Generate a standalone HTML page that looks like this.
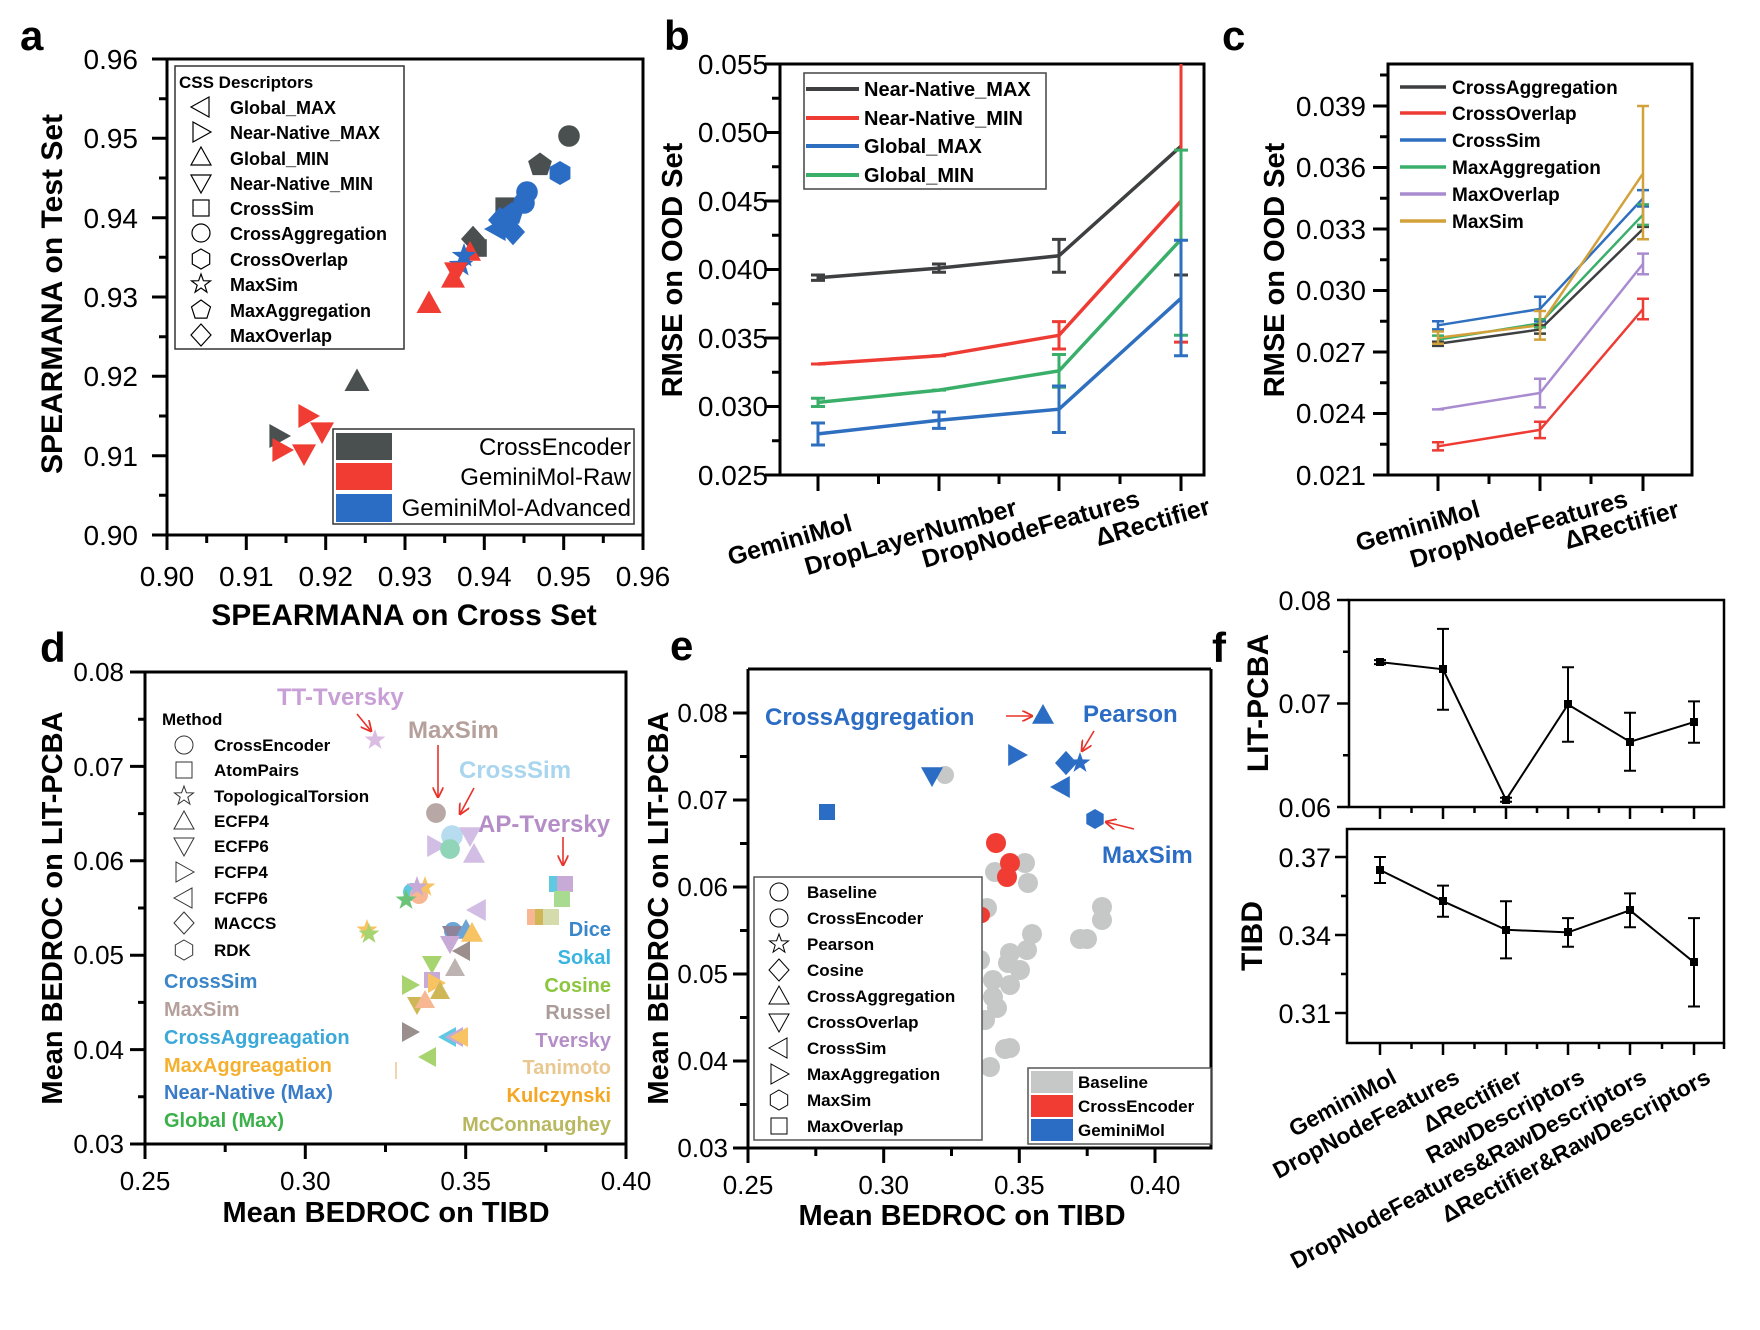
<!DOCTYPE html>
<html><head><meta charset="utf-8"><style>
html,body{margin:0;padding:0;background:#fff}
svg{display:block;font-family:"Liberation Sans",Arial,sans-serif}
.b{font-weight:bold}
</style></head><body>
<svg width="1760" height="1330" viewBox="0 0 1760 1330" xmlns="http://www.w3.org/2000/svg">
<defs>
<polygon id="tu" points="0,-10 10,8 -10,8"/>
<polygon id="td" points="0,10 10,-8 -10,-8"/>
<polygon id="tl" points="-10,0 8,-10 8,10"/>
<polygon id="tr" points="10,0 -8,-10 -8,10"/>
<rect id="sq" x="-8" y="-8" width="16" height="16"/>
<circle id="ci" r="9"/>
<polygon id="di" points="0,-11 10,0 0,11 -10,0"/>
<polygon id="pe" points="0,-10 9.5,-3.1 5.9,8.1 -5.9,8.1 -9.5,-3.1"/>
<polygon id="hx" points="0,-10 8.7,-5 8.7,5 0,10 -8.7,5 -8.7,-5"/>
<polygon id="st" points="0,-10 2.4,-3.3 9.5,-3.1 3.8,1.2 5.9,8.1 0,4 -5.9,8.1 -3.8,1.2 -9.5,-3.1 -2.4,-3.3"/>
<marker id="ar" viewBox="0 0 10 10" refX="9" refY="5" markerWidth="7" markerHeight="7" orient="auto"><path d="M0,0 L10,5 L0,10" fill="none" stroke="#e8322a" stroke-width="1.6"/></marker>
</defs>

<g class="b" font-size="42">
<text x="20" y="50">a</text><text x="664" y="50">b</text><text x="1222" y="50">c</text>
<text x="40" y="662">d</text><text x="670" y="660">e</text><text x="1212" y="662">f</text>
</g>

<!-- ===== PANEL A ===== -->
<g>
<rect x="167" y="59" width="476" height="476" fill="none" stroke="#000" stroke-width="3"/>
<g stroke="#000" stroke-width="3">
<path d="M167,535v15M246.3,535v15M325.7,535v15M405,535v15M484.3,535v15M563.7,535v15M643,535v15"/>
<path d="M206.7,535v8M286,535v8M365.3,535v8M444.7,535v8M524,535v8M603.3,535v8"/>
<path d="M152,535h15M152,455.7h15M152,376.3h15M152,297h15M152,217.7h15M152,138.3h15M152,59h15"/>
<path d="M159,495.3h8M159,416h8M159,336.7h8M159,257.3h8M159,178h8M159,98.7h8"/>
</g>
<g font-size="28" text-anchor="middle">
<text x="167" y="586">0.90</text><text x="246.3" y="586">0.91</text><text x="325.7" y="586">0.92</text><text x="405" y="586">0.93</text><text x="484.3" y="586">0.94</text><text x="563.7" y="586">0.95</text><text x="643" y="586">0.96</text>
</g>
<g font-size="28" text-anchor="end">
<text x="138" y="545">0.90</text><text x="138" y="466">0.91</text><text x="138" y="386">0.92</text><text x="138" y="307">0.93</text><text x="138" y="228">0.94</text><text x="138" y="148">0.95</text><text x="138" y="69">0.96</text>
</g>
<text class="b" font-size="30" x="404" y="625" text-anchor="middle">SPEARMANA on Cross Set</text>
<text class="b" font-size="30" transform="translate(62,294) rotate(-90)" text-anchor="middle">SPEARMANA on Test Set</text>
<g>
<use href="#ci" fill="#4a4f50" transform="translate(569,136) scale(1.2)"/>
<use href="#pe" fill="#4a4f50" transform="translate(540,165) scale(1.25)"/>
<use href="#hx" fill="#2b6cc4" transform="translate(560,173) scale(1.2)"/>
<use href="#sq" fill="#4a4f50" transform="translate(505,207) scale(1.2)"/>
<use href="#ci" fill="#2b6cc4" transform="translate(527,192) scale(1.2)"/>
<use href="#ci" fill="#2b6cc4" transform="translate(524,203) scale(1.2)"/>
<use href="#pe" fill="#2b6cc4" transform="translate(512,214) scale(1.2)"/>
<use href="#di" fill="#2b6cc4" transform="translate(500,220) scale(1.2)"/>
<use href="#hx" fill="#2b6cc4" transform="translate(505,226) scale(1.2)"/>
<use href="#tl" fill="#2b6cc4" transform="translate(496,229) scale(1.2)"/>
<use href="#di" fill="#2b6cc4" transform="translate(513,232) scale(1.2)"/>
<use href="#di" fill="#4a4f50" transform="translate(473,239) scale(1.2)"/>
<use href="#sq" fill="#4a4f50" transform="translate(478,248) scale(1.1)"/>
<use href="#tu" fill="#f03c32" transform="translate(470,252) scale(1.1)"/>
<use href="#st" fill="#2b6cc4" transform="translate(464,256) scale(1.3)"/>
<use href="#st" fill="#2b6cc4" transform="translate(461,265) scale(1.3)"/>
<use href="#td" fill="#f03c32" transform="translate(456,272) scale(1.2)"/>
<use href="#tu" fill="#f03c32" transform="translate(453,278) scale(1.2)"/>
<use href="#tu" fill="#f03c32" transform="translate(429,303) scale(1.25)"/>
<use href="#tu" fill="#4a4f50" transform="translate(357,381) scale(1.25)"/>
<use href="#tr" fill="#f03c32" transform="translate(308,416) scale(1.2)"/>
<use href="#td" fill="#f03c32" transform="translate(322,432) scale(1.2)"/>
<use href="#tr" fill="#4a4f50" transform="translate(279,436) scale(1.2)"/>
<use href="#tr" fill="#f03c32" transform="translate(282,450) scale(1.2)"/>
<use href="#td" fill="#f03c32" transform="translate(304,454) scale(1.2)"/>
</g>
<rect x="175" y="66" width="229" height="283" fill="#fff" stroke="#333" stroke-width="1.5"/>
<text class="b" font-size="17" x="179" y="88">CSS Descriptors</text>
<g fill="none" stroke="#000" stroke-width="1.2">
<use href="#tl" transform="translate(201,107)"/>
<use href="#tr" transform="translate(201,132)"/>
<use href="#tu" transform="translate(201,157)"/>
<use href="#td" transform="translate(201,183)"/>
<use href="#sq" transform="translate(201,208)"/>
<use href="#ci" transform="translate(201,233)"/>
<use href="#hx" transform="translate(201,259)"/>
<use href="#st" transform="translate(201,284)"/>
<use href="#pe" transform="translate(201,310)"/>
<use href="#di" transform="translate(201,335)"/>
</g>
<g class="b" font-size="18">
<text x="230" y="114">Global_MAX</text><text x="230" y="139">Near-Native_MAX</text><text x="230" y="165">Global_MIN</text><text x="230" y="190">Near-Native_MIN</text><text x="230" y="215">CrossSim</text><text x="230" y="240">CrossAggregation</text><text x="230" y="266">CrossOverlap</text><text x="230" y="291">MaxSim</text><text x="230" y="317">MaxAggregation</text><text x="230" y="342">MaxOverlap</text>
</g>
<rect x="333" y="429" width="301" height="95" fill="#fff" stroke="#333" stroke-width="1.5"/>
<rect x="336" y="433" width="56" height="27" fill="#4a4f50"/>
<rect x="336" y="463" width="56" height="27" fill="#f03c32"/>
<rect x="336" y="494" width="56" height="28" fill="#2b6cc4"/>
<g font-size="24" text-anchor="end">
<text x="631" y="455">CrossEncoder</text><text x="631" y="485">GeminiMol-Raw</text><text x="631" y="516">GeminiMol-Advanced</text>
</g>
</g>

<!-- ===== PANEL B ===== -->
<g>
<rect x="780" y="64" width="424" height="411" fill="none" stroke="#000" stroke-width="3"/>
<g stroke="#000" stroke-width="3">
<path d="M765,475h15M765,406.5h15M765,338h15M765,269.5h15M765,201h15M765,132.5h15M765,64h15"/>
<path d="M772,440.8h8M772,372.3h8M772,303.8h8M772,235.3h8M772,166.8h8M772,98.3h8"/>
<path d="M818,475v16M939,475v16M1059,475v16M1181,475v16M878.5,475v9M999,475v9M1120,475v9"/>
</g>
<g font-size="28" text-anchor="end">
<text x="768" y="485">0.025</text><text x="768" y="416">0.030</text><text x="768" y="348">0.035</text><text x="768" y="279">0.040</text><text x="768" y="211">0.045</text><text x="768" y="142">0.050</text><text x="768" y="74">0.055</text>
</g>
<text class="b" font-size="29" transform="translate(682,270) rotate(-90)" text-anchor="middle">RMSE on OOD Set</text>
<g class="b" font-size="25" text-anchor="middle">
<text transform="translate(792,548) rotate(-16)">GeminiMol</text>
<text transform="translate(913,545) rotate(-16)">DropLayerNumber</text>
<text transform="translate(1033,537) rotate(-16)">DropNodeFeatures</text>
<text transform="translate(1155,530) rotate(-16)">ΔRectifier</text>
</g>
<g fill="none" stroke-width="3.5">
<polyline points="818,277.7 939,268.1 1059,255.8 1181,146.2" stroke="#3d3f40"/>
<polyline points="818,364 939,355.8 1059,335.3 1181,201" stroke="#ee3b33"/>
<polyline points="818,402.4 939,390.1 1059,370.9 1181,239.4" stroke="#3aaf6a"/>
<polyline points="818,433.9 939,420.2 1059,409.2 1181,298.3" stroke="#2e6fc0"/>
</g>
<g fill="none" stroke-width="3">
<path stroke="#3d3f40" d="M818,275v5.4M811,275h14M811,280.4h14M939,264v8.2M932,264h14M932,272.2h14M1059,239.4v32.8M1052,239.4h14M1052,272.2h14M1174,275h14"/>
<path stroke="#ee3b33" d="M811,364h14M932,355.8h14M1059,321.6v27.4M1052,321.6h14M1052,349h14M1181,64v278M1174,342.1h14"/>
<path stroke="#3aaf6a" d="M818,398.3v8.2M811,398.3h14M811,406.5h14M932,390.1h14M1059,354.5v32.8M1052,354.5h14M1052,387.3h14M1181,150v185.3M1174,150.1h14M1174,335.3h14"/>
<path stroke="#2e6fc0" d="M818,423v22M811,423h14M811,445h14M939,412v16.4M932,412h14M932,428.4h14M1059,386v46.5M1052,386h14M1052,432.5h14M1181,240v116M1174,240.2h14M1174,355.8h14"/>
</g>
<rect x="804" y="73" width="242" height="116" fill="#fff" stroke="#444" stroke-width="1.5"/>
<g stroke-width="4">
<path d="M806,89h53" stroke="#3d3f40"/><path d="M806,118h53" stroke="#ee3b33"/><path d="M806,146h53" stroke="#2e6fc0"/><path d="M806,175h53" stroke="#3aaf6a"/>
</g>
<g class="b" font-size="20">
<text x="864" y="96">Near-Native_MAX</text><text x="864" y="125">Near-Native_MIN</text><text x="864" y="153">Global_MAX</text><text x="864" y="182">Global_MIN</text>
</g>
</g>

<!-- ===== PANEL C ===== -->
<g>
<rect x="1388" y="64" width="304" height="411" fill="none" stroke="#000" stroke-width="3"/>
<g stroke="#000" stroke-width="3">
<path d="M1373,475h15M1373,413.5h15M1373,352h15M1373,290.5h15M1373,229h15M1373,167.5h15M1373,106h15"/>
<path d="M1380,444.3h8M1380,382.8h8M1380,321.3h8M1380,259.8h8M1380,198.3h8M1380,136.8h8M1380,75h8"/>
<path d="M1438,475v16M1540,475v16M1643,475v16M1489,475v9M1591,475v9"/>
</g>
<g font-size="28" text-anchor="end">
<text x="1366" y="485">0.021</text><text x="1366" y="423">0.024</text><text x="1366" y="362">0.027</text><text x="1366" y="300">0.030</text><text x="1366" y="239">0.033</text><text x="1366" y="177">0.036</text><text x="1366" y="116">0.039</text>
</g>
<text class="b" font-size="29" transform="translate(1284,270) rotate(-90)" text-anchor="middle">RMSE on OOD Set</text>
<g class="b" font-size="25" text-anchor="middle">
<text transform="translate(1420,534) rotate(-16)">GeminiMol</text>
<text transform="translate(1521,537) rotate(-16)">DropNodeFeatures</text>
<text transform="translate(1624,533) rotate(-16)">ΔRectifier</text>
</g>
<g fill="none" stroke-width="2.5">
<polyline points="1438,343.8 1540,329.5 1643,229" stroke="#3d3f40"/>
<polyline points="1438,446.3 1540,429.9 1643,309" stroke="#ee3b33"/>
<polyline points="1438,325.3 1540,309 1643,198.3" stroke="#2e6fc0"/>
<polyline points="1438,339.7 1540,323.3 1643,214.7" stroke="#3aaf6a"/>
<polyline points="1438,409.4 1540,393 1643,263.9" stroke="#a98bd0"/>
<polyline points="1438,337.7 1540,325.3 1643,173.6" stroke="#d3a13a"/>
</g>
<g fill="none" stroke-width="2.5">
<path stroke="#3d3f40" d="M1432,341.7h12M1432,345.9h12M1534,325.4h12M1534,333.6h12M1637,226.9h12"/>
<path stroke="#ee3b33" d="M1438,442v8.2M1432,442.2h12M1432,450.4h12M1540,421.7v16.4M1534,421.7h12M1534,438.1h12M1643,298.7v20.5M1637,298.7h12M1637,319.3h12"/>
<path stroke="#2e6fc0" d="M1438,321v8.2M1432,321.2h12M1432,329.4h12M1540,296.7v24.6M1534,296.7h12M1534,321.3h12M1643,190v16.4M1637,190.1h12M1637,206.5h12"/>
<path stroke="#3aaf6a" d="M1432,335.6h12M1432,343.8h12M1534,319.2h12M1534,327.4h12M1643,204.4v20.5M1637,204.4h12M1637,224.9h12"/>
<path stroke="#a98bd0" d="M1432,409.4h12M1540,378.7v28.7M1534,378.7h12M1534,407.4h12M1643,253.6v20.5M1637,253.6h12M1637,274.2h12"/>
<path stroke="#d3a13a" d="M1438,331.5v12.3M1432,331.5h12M1432,343.8h12M1540,311v28.7M1534,311h12M1534,339.6h12M1643,106v133.3M1637,106h12M1637,239.3h12"/>
</g>
<g stroke-width="3.5">
<path d="M1400,87h46" stroke="#3d3f40"/><path d="M1400,113h46" stroke="#ee3b33"/><path d="M1400,140h46" stroke="#2e6fc0"/><path d="M1400,167h46" stroke="#3aaf6a"/><path d="M1400,194h46" stroke="#a98bd0"/><path d="M1400,221h46" stroke="#d3a13a"/>
</g>
<g class="b" font-size="19">
<text x="1452" y="94">CrossAggregation</text><text x="1452" y="120">CrossOverlap</text><text x="1452" y="147">CrossSim</text><text x="1452" y="174">MaxAggregation</text><text x="1452" y="201">MaxOverlap</text><text x="1452" y="228">MaxSim</text>
</g>
</g>

<!-- ===== PANEL D ===== -->
<g>
<rect x="145" y="672" width="481" height="472" fill="none" stroke="#000" stroke-width="3"/>
<g stroke="#000" stroke-width="3">
<path d="M145,1144v15M305.3,1144v15M465.7,1144v15M626,1144v15M225.2,1144v8M385.5,1144v8M545.8,1144v8"/>
<path d="M130,1144h15M130,1049.6h15M130,955.2h15M130,860.8h15M130,766.4h15M130,672h15"/>
<path d="M138,1096.8h7M138,1002.4h7M138,908h7M138,813.6h7M138,719.2h7"/>
</g>
<g font-size="26" text-anchor="middle">
<text x="145" y="1190">0.25</text><text x="305.3" y="1190">0.30</text><text x="465.7" y="1190">0.35</text><text x="626" y="1190">0.40</text>
</g>
<g font-size="26" text-anchor="end">
<text x="124" y="1153">0.03</text><text x="124" y="1059">0.04</text><text x="124" y="964">0.05</text><text x="124" y="870">0.06</text><text x="124" y="776">0.07</text><text x="124" y="681">0.08</text>
</g>
<text class="b" font-size="29" x="386" y="1222" text-anchor="middle">Mean BEDROC on TIBD</text>
<text class="b" font-size="29" transform="translate(62,908) rotate(-90)" text-anchor="middle">Mean BEDROC on LIT-PCBA</text>
<text class="b" font-size="17" x="162" y="725">Method</text>
<g fill="none" stroke="#333" stroke-width="1">
<use href="#ci" transform="translate(184,745)"/><use href="#sq" transform="translate(184,770)"/><use href="#st" transform="translate(184,796)"/><use href="#tu" transform="translate(184,821)"/><use href="#td" transform="translate(184,846)"/><use href="#tr" transform="translate(184,872)"/><use href="#tl" transform="translate(184,898)"/><use href="#di" transform="translate(184,923)"/><use href="#hx" transform="translate(184,950)"/>
</g>
<g class="b" font-size="17">
<text x="214" y="751">CrossEncoder</text><text x="214" y="776">AtomPairs</text><text x="214" y="802">TopologicalTorsion</text><text x="214" y="827">ECFP4</text><text x="214" y="852">ECFP6</text><text x="214" y="878">FCFP4</text><text x="214" y="904">FCFP6</text><text x="214" y="929">MACCS</text><text x="214" y="956">RDK</text>
</g>
<g class="b" font-size="20">
<text x="164" y="988" fill="#3a86c8">CrossSim</text>
<text x="164" y="1016" fill="#b5a09c">MaxSim</text>
<text x="164" y="1044" fill="#3aa8d8">CrossAggreagation</text>
<text x="164" y="1072" fill="#f5b030">MaxAggreagation</text>
<text x="164" y="1099" fill="#3a7cc8">Near-Native (Max)</text>
<text x="164" y="1127" fill="#3cb04a">Global (Max)</text>
</g>
<g class="b" font-size="20" text-anchor="end">
<text x="611" y="936" fill="#3a86c8">Dice</text>
<text x="611" y="964" fill="#3ab4e0">Sokal</text>
<text x="611" y="992" fill="#8cc63f">Cosine</text>
<text x="611" y="1019" fill="#aa9c98">Russel</text>
<text x="611" y="1047" fill="#b58ec8">Tversky</text>
<text x="611" y="1074" fill="#e8c890">Tanimoto</text>
<text x="611" y="1102" fill="#f5a623">Kulczynski</text>
<text x="611" y="1131" fill="#b8b860">McConnaughey</text>
</g>
<g class="b" font-size="24">
<text x="277" y="705" fill="#c9a0d6">TT-Tversky</text>
<text x="408" y="738" fill="#b5a09c">MaxSim</text>
<text x="459" y="778" fill="#a9d5ee">CrossSim</text>
<text x="478" y="832" fill="#b58ec8">AP-Tversky</text>
</g>
<g stroke="#e8322a" stroke-width="1.6" fill="none" marker-end="url(#ar)">
<path d="M357,714L371,731"/><path d="M438,745V797"/><path d="M474,788L460,814"/><path d="M563,837V865"/>
</g>
<g opacity="0.75">
<use href="#st" fill="#d0a8dc" transform="translate(375,740) scale(1.1)"/>
<use href="#ci" fill="#a08a88" transform="translate(436,813) scale(1.1)"/>
<use href="#tr" fill="#c4a8dc" transform="translate(436,846) scale(1.1)"/>
<use href="#ci" fill="#9fd0ea" transform="translate(452,836) scale(1.2)"/>
<use href="#ci" fill="#6cc8a0" transform="translate(450,849) scale(1.1)"/>
<use href="#td" fill="#c4a8dc" transform="translate(470,836) scale(1.1)"/>
<use href="#tu" fill="#c4a8dc" transform="translate(474,854) scale(1.1)"/>
<use href="#sq" fill="#2ab8d8" transform="translate(557,884)"/>
<use href="#sq" fill="#b58ec8" transform="translate(565,884)"/>
<use href="#sq" fill="#8cd06a" transform="translate(562,899)"/>
<use href="#sq" fill="#f5a070" transform="translate(535,917)"/>
<use href="#sq" fill="#c0a020" transform="translate(543,917)"/>
<use href="#sq" fill="#c8d090" transform="translate(551,917)"/>
<use href="#ci" fill="#2ab8d8" transform="translate(412,892)"/>
<use href="#ci" fill="#f5a070" transform="translate(419,895)"/>
<use href="#st" fill="#f5b030" transform="translate(425,887) scale(1.1)"/>
<use href="#st" fill="#3cb04a" transform="translate(406,900) scale(1.1)"/>
<use href="#st" fill="#b58ec8" transform="translate(417,887) scale(1.1)"/>
<use href="#st" fill="#f5b030" transform="translate(367,930) scale(1.1)"/>
<use href="#st" fill="#8cc63f" transform="translate(369,934) scale(1.1)"/>
<use href="#tl" fill="#c4a8dc" transform="translate(477,910) scale(1.1)"/>
<use href="#ci" fill="#3a86c8" transform="translate(453,931)"/>
<use href="#tu" fill="#3a86c8" transform="translate(466,930) scale(1.1)"/>
<use href="#tu" fill="#f5b030" transform="translate(472,933) scale(1.1)"/>
<use href="#td" fill="#6a5a78" transform="translate(452,934)"/>
<use href="#td" fill="#b58ec8" transform="translate(450,944)"/>
<use href="#tl" fill="#7a6a68" transform="translate(462,951)"/>
<use href="#td" fill="#8cc63f" transform="translate(432,964)"/>
<use href="#tu" fill="#a89c98" transform="translate(455,968)"/>
<use href="#tr" fill="#8cc63f" transform="translate(410,985)"/>
<use href="#sq" fill="#b58ec8" transform="translate(432,980)"/>
<use href="#tr" fill="#f5b030" transform="translate(436,983)"/>
<use href="#tu" fill="#c0a020" transform="translate(440,991)"/>
<use href="#td" fill="#c0a020" transform="translate(417,1005)"/>
<use href="#tu" fill="#f5a070" transform="translate(425,1000)"/>
<use href="#tr" fill="#7a6a68" transform="translate(410,1032)"/>
<use href="#tl" fill="#2ab8d8" transform="translate(448,1037)"/>
<use href="#tl" fill="#b58ec8" transform="translate(455,1037)"/>
<use href="#tl" fill="#f5b030" transform="translate(460,1037)"/>
<use href="#tl" fill="#8cc63f" transform="translate(428,1057)"/>
</g>
<path d="M396,1062v17" stroke="#e8c890" stroke-width="1.5"/>
</g>

<!-- ===== PANEL E ===== -->
<g>
<path d="M748,669V1148H1211V669" fill="none" stroke="#000" stroke-width="3"/>
<path d="M748,669H1211" stroke="#000" stroke-width="3"/>
<g stroke="#000" stroke-width="3">
<path d="M748,1148v15M883.7,1148v15M1019.3,1148v15M1155,1148v15M815.8,1148v8M951.5,1148v8M1087.2,1148v8"/>
<path d="M733,1148h15M733,1061h15M733,974h15M733,887h15M733,800h15M733,713h15"/>
<path d="M740,1104.5h8M740,1017.5h8M740,930.5h8M740,843.5h8M740,756.5h8"/>
</g>
<g font-size="26" text-anchor="middle">
<text x="748" y="1194">0.25</text><text x="883.7" y="1194">0.30</text><text x="1019.3" y="1194">0.35</text><text x="1155" y="1194">0.40</text>
</g>
<g font-size="26" text-anchor="end">
<text x="728" y="1157">0.03</text><text x="728" y="1070">0.04</text><text x="728" y="983">0.05</text><text x="728" y="896">0.06</text><text x="728" y="809">0.07</text><text x="728" y="722">0.08</text>
</g>
<text class="b" font-size="29" x="962" y="1225" text-anchor="middle">Mean BEDROC on TIBD</text>
<text class="b" font-size="29" transform="translate(668,908) rotate(-90)" text-anchor="middle">Mean BEDROC on LIT-PCBA</text>
<g fill="#c6c8c8">
<circle cx="1025" cy="863" r="10"/><circle cx="995" cy="872" r="10"/><circle cx="1028" cy="883" r="10"/><circle cx="987" cy="908" r="10"/>
<circle cx="1102" cy="907" r="10"/><circle cx="1102" cy="920" r="10"/><circle cx="1087" cy="939" r="10"/><circle cx="1080" cy="939" r="10"/>
<circle cx="1032" cy="934" r="10"/><circle cx="1027" cy="950" r="10"/><circle cx="1010" cy="953" r="10"/><circle cx="1008" cy="963" r="10"/>
<circle cx="1020" cy="970" r="10"/><circle cx="1010" cy="985" r="10"/><circle cx="993" cy="980" r="10"/><circle cx="993" cy="997" r="10"/>
<circle cx="997" cy="1008" r="10"/><circle cx="1010" cy="1048" r="10"/><circle cx="1005" cy="1049" r="10"/><circle cx="990" cy="1067" r="10"/>
<circle cx="985" cy="1020" r="10"/><circle cx="980" cy="960" r="10"/><circle cx="945" cy="775" r="9"/>
</g>
<g fill="#f03c32">
<circle cx="996" cy="843" r="10"/><circle cx="1010" cy="863" r="10"/><circle cx="1007" cy="877" r="10"/><circle cx="982" cy="915" r="8"/>
</g>
<g fill="#2b6cc4">
<use href="#tu" transform="translate(1043,715) scale(1.1)"/>
<use href="#tr" transform="translate(1017,755) scale(1.1)"/>
<use href="#di" transform="translate(1066,763) scale(1.1)"/>
<use href="#st" transform="translate(1080,763) scale(1.1)"/>
<use href="#tl" transform="translate(1061,787) scale(1.1)"/>
<use href="#hx" transform="translate(1095,819) scale(1.0)"/>
<use href="#td" transform="translate(932,776) scale(1.1)"/>
<use href="#sq" transform="translate(827,812) scale(1.0)"/>
</g>
<g class="b" font-size="24" fill="#2b6cc4">
<text x="765" y="725">CrossAggregation</text><text x="1083" y="722">Pearson</text><text x="1102" y="863">MaxSim</text>
</g>
<g stroke="#e8322a" stroke-width="1.6" fill="none" marker-end="url(#ar)">
<path d="M1006,716H1032"/><path d="M1094,731L1082,751"/><path d="M1134,829L1106,822"/>
</g>
<rect x="754" y="877" width="228" height="263" fill="#fff" stroke="#555" stroke-width="1.5"/>
<g fill="none" stroke="#000" stroke-width="1">
<use href="#ci" transform="translate(779,892)"/><use href="#ci" transform="translate(779,918)"/><use href="#st" transform="translate(779,944)"/><use href="#di" transform="translate(779,970)"/><use href="#tu" transform="translate(779,996)"/><use href="#td" transform="translate(779,1022)"/><use href="#tl" transform="translate(779,1048)"/><use href="#tr" transform="translate(779,1074)"/><use href="#hx" transform="translate(779,1100)"/><use href="#sq" transform="translate(779,1126)"/>
</g>
<g class="b" font-size="17">
<text x="807" y="898">Baseline</text><text x="807" y="924">CrossEncoder</text><text x="807" y="950">Pearson</text><text x="807" y="976">Cosine</text><text x="807" y="1002">CrossAggregation</text><text x="807" y="1028">CrossOverlap</text><text x="807" y="1054">CrossSim</text><text x="807" y="1080">MaxAggregation</text><text x="807" y="1106">MaxSim</text><text x="807" y="1132">MaxOverlap</text>
</g>
<rect x="1028" y="1068" width="183" height="76" fill="#fff" stroke="#555" stroke-width="1.5"/>
<rect x="1031" y="1071" width="42" height="22" fill="#c6c8c8"/>
<rect x="1031" y="1095" width="42" height="22" fill="#f03c32"/>
<rect x="1031" y="1119" width="42" height="22" fill="#2b6cc4"/>
<g class="b" font-size="17">
<text x="1078" y="1088">Baseline</text><text x="1078" y="1112">CrossEncoder</text><text x="1078" y="1136">GeminiMol</text>
</g>
</g>

<!-- ===== PANEL F ===== -->
<g>
<rect x="1349" y="600" width="375" height="207" fill="none" stroke="#000" stroke-width="2.5"/>
<rect x="1347" y="829" width="377" height="214" fill="none" stroke="#000" stroke-width="2.5"/>
<g stroke="#000" stroke-width="2.5">
<path d="M1337,600h12M1337,703.5h12M1337,807h12M1343,651.8h6M1343,755.3h6"/>
<path d="M1380,807v12M1443,807v12M1506,807v12M1568,807v12M1630,807v12M1694,807v12M1411.5,807v6M1474.5,807v6M1537,807v6M1599,807v6M1662,807v6"/>
<path d="M1335,857h12M1335,935h12M1335,1013h12M1341,896h6M1341,974h6"/>
<path d="M1380,1043v12M1443,1043v12M1506,1043v12M1568,1043v12M1630,1043v12M1694,1043v12M1411.5,1043v6M1474.5,1043v6M1537,1043v6M1599,1043v6M1662,1043v6M1724,1043v6"/>
</g>
<g font-size="27" text-anchor="end">
<text x="1331" y="610">0.08</text><text x="1331" y="713">0.07</text><text x="1331" y="817">0.06</text>
<text x="1331" y="867">0.37</text><text x="1331" y="945">0.34</text><text x="1331" y="1023">0.31</text>
</g>
<text class="b" font-size="30" transform="translate(1268,703) rotate(-90)" text-anchor="middle">LIT-PCBA</text>
<text class="b" font-size="30" transform="translate(1262,936) rotate(-90)" text-anchor="middle">TIBD</text>
<g fill="none" stroke="#000" stroke-width="2">
<polyline points="1380,662.1 1443,669.3 1506,799.8 1568,704.5 1630,741.8 1694,722.1"/>
<polyline points="1380,870 1443,901.2 1506,929.8 1568,932.4 1630,910.3 1694,962.3"/>
<path d="M1374,660.1h12M1374,664.1h12M1443,628.9v80.8M1437,628.9h12M1437,709.7h12M1500,797.8h12M1500,801.8h12M1568,667.2v74.6M1562,667.2h12M1562,741.8h12M1630,712.8v58M1624,712.8h12M1624,770.8h12M1694,701.4v41.4M1688,701.4h12M1688,742.8h12"/>
<path d="M1380,857v26M1374,857h12M1374,883h12M1443,885.6v31.2M1437,885.6h12M1437,916.8h12M1506,901.2v57.2M1500,901.2h12M1500,958.4h12M1568,918.1v28.6M1562,918.1h12M1562,946.7h12M1630,893.4v33.8M1624,893.4h12M1624,927.2h12M1694,918.1v88.4M1688,918.1h12M1688,1006.5h12"/>
</g>
<g fill="#000">
<rect x="1376" y="658" width="8" height="8"/><rect x="1439" y="665" width="8" height="8"/><rect x="1502" y="796" width="8" height="8"/><rect x="1564" y="700" width="8" height="8"/><rect x="1626" y="738" width="8" height="8"/><rect x="1690" y="718" width="8" height="8"/>
<rect x="1376" y="866" width="8" height="8"/><rect x="1439" y="897" width="8" height="8"/><rect x="1502" y="926" width="8" height="8"/><rect x="1564" y="928" width="8" height="8"/><rect x="1626" y="906" width="8" height="8"/><rect x="1690" y="958" width="8" height="8"/>
</g>
<g class="b" font-size="23" text-anchor="end">
<text transform="translate(1398,1082) rotate(-28)">GeminiMol</text>
<text transform="translate(1461,1082) rotate(-28)">DropNodeFeatures</text>
<text transform="translate(1524,1082) rotate(-28)">ΔRectifier</text>
<text transform="translate(1586,1082) rotate(-28)">RawDescriptors</text>
<text transform="translate(1648,1082) rotate(-28)">DropNodeFeatures&amp;RawDescriptors</text>
<text transform="translate(1712,1082) rotate(-28)">ΔRectifier&amp;RawDescriptors</text>
</g>
</g>
</svg>
</body></html>
